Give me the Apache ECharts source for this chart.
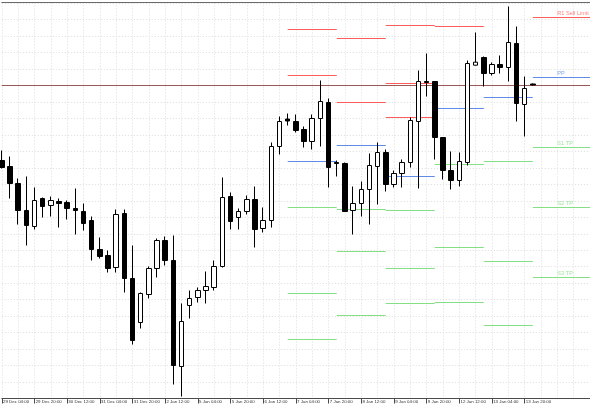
<!DOCTYPE html>
<html><head><meta charset="utf-8">
<script src="https://cdn.jsdelivr.net/npm/echarts@6/dist/echarts.min.js"></script>
<style>html,body{margin:0;padding:0;background:#fff}#c{width:590px;height:410px}</style>
</head><body><div id="c"></div><script>
// 4H bar times
const times = [
 "29 Dec 04:00","29 Dec 08:00","29 Dec 12:00","29 Dec 16:00","29 Dec 20:00",
 "30 Dec 00:00","30 Dec 04:00","30 Dec 08:00","30 Dec 12:00","30 Dec 16:00","30 Dec 20:00",
 "31 Dec 00:00","31 Dec 04:00","31 Dec 08:00","31 Dec 12:00","31 Dec 16:00","31 Dec 20:00",
 "2 Jan 00:00","2 Jan 04:00","2 Jan 08:00","2 Jan 12:00","2 Jan 16:00","2 Jan 20:00",
 "5 Jan 00:00","5 Jan 04:00","5 Jan 08:00","5 Jan 12:00","5 Jan 16:00","5 Jan 20:00",
 "6 Jan 00:00","6 Jan 04:00","6 Jan 08:00","6 Jan 12:00","6 Jan 16:00","6 Jan 20:00",
 "7 Jan 00:00","7 Jan 04:00","7 Jan 08:00","7 Jan 12:00","7 Jan 16:00","7 Jan 20:00",
 "8 Jan 00:00","8 Jan 04:00","8 Jan 08:00","8 Jan 12:00","8 Jan 16:00","8 Jan 20:00",
 "9 Jan 00:00","9 Jan 04:00","9 Jan 08:00","9 Jan 12:00","9 Jan 16:00","9 Jan 20:00",
 "12 Jan 00:00","12 Jan 04:00","12 Jan 08:00","12 Jan 12:00","12 Jan 16:00","12 Jan 20:00",
 "13 Jan 00:00","13 Jan 04:00","13 Jan 08:00","13 Jan 12:00","13 Jan 16:00","13 Jan 20:00",
 "14 Jan 00:00"
];
const futureSlots = ["","","","","","",""];

// prices (points)
const open  = [238,232,215,188,172,200,193,197,196,190,187,178,149,143,131,185,120,76,104,130,158,138,32,93,101,108,111,132,202,181,187,199,170,178,252,279.5,277,269,257,280,296,236,235,188,195,209,232,246,214,225,236,277,317,317,261,228,218,236,333.3,341,325,334,331,355,294,314.5];
const close = [231,215,188,173,198,192,198,195,190,188,175,149,142,130,184,120,58,105,130,158,138,33,77,100,108,112,132,201,177,187,199,169,178,252,277,277.5,268,257,280,297,231,235,187,195,209,233,246,214,225,236,278,317,316,261,228,218,237,335,336.3,325,334,331,356,295,310,313.5];
const low   = [230,200,174,153,169,181,182,171,179,164,168,138,140,126,126,106,54,70,100,121,133,14,2,80,96,95,108,131,169,169,184,151,166,171,244,273,266,251,249,252,211,222,187,164,182,174,194,207,211,211,231,210,302,239,219,209,212,233,333,312,323,325,317,277,262,313];
const high  = [248,242,220,222,211,201,202,200,198,210,195,182,161,148,189,189,153,106,132,160,162,163,95,108,111,127,138,221,206,190,203,212,191,256,282,285,284,272,284,318,300,238,236,212,217,245,256,249,228,239,281,328,345,317,261,247,246,338,366,342,336,343,392,372,322,315];

// daily pivot levels (segments from dayStart to dayEnd bar index)
const dayStart = [35,41,47,53,59,65];
const dayEnd   = [41,47,53,59,65,72];
const r3 = [null,null,373,null,null,null];
const r2 = [369,360,315,null,null,null];
const r1 = [323,296,281,372,null,381];
const pp = [237,253,222,290,301,321];
const s1 = [191,189,188,234,237,251];
const s2 = [105,147,130,151,137,191];
const s3 = [59,83,95,96,73,121];
const labelBar = 68;
const labelTexts = ["R1 Sell Limit","PP","S1 TP","S2 TP","S3 TP"];

const RED = '#ff5c5c', BLUE = '#5f8ce8', GREEN = '#84e084';
const FONT = 'Liberation Sans, Arial, sans-serif';

const categories = times.concat(futureSlots);
const candleData = open.map((o, i) => [o, close[i], low[i], high[i]]);

const series = [{
  type: 'candlestick',
  data: candleData,
  barWidth: 5,
  clip: false,
  itemStyle: { color: '#ffffff', color0: '#000000', borderColor: '#000000', borderColor0: '#000000', borderWidth: 1 },
  markLine: {
    silent: true, symbol: 'none', animation: false,
    label: { show: false },
    lineStyle: { color: '#9a5858', width: 1, type: 'solid' },
    data: [{ yAxis: close[close.length - 1] }]
  },
  z: 5
}];

const levels = [[r3, RED],[r2, RED],[r1, RED],[pp, BLUE],[s1, GREEN],[s2, GREEN],[s3, GREEN]];
levels.forEach(([arr, col]) => {
  arr.forEach((v, d) => {
    if (v == null) return;
    series.push({
      type: 'line', silent: true, symbol: 'none', animation: false,
      lineStyle: { color: col, width: 1 },
      data: [[dayStart[d], v], [dayEnd[d], v]],
      z: 3
    });
  });
});

const last = dayStart.length - 1;
const labelVals = [r1[last], pp[last], s1[last], s2[last], s3[last]];
const labelCols = [RED, BLUE, GREEN, GREEN, GREEN];
series.push({
  type: 'scatter', silent: true, animation: false, symbolSize: 0,
  data: labelVals.map((v, k) => ({
    value: [labelBar, v],
    label: { show: true, formatter: labelTexts[k], position: 'top', align: 'left', distance: 1.2,
             color: labelCols[k], fontSize: 5.6, fontFamily: FONT }
  })),
  z: 6
});

const chart = echarts.init(document.getElementById('c'), null, { renderer: 'canvas' });
chart.setOption({
  animation: false,
  backgroundColor: '#ffffff',
  grid: { left: 1.7, right: -2.1, top: 2.5, bottom: 11.5 },
  xAxis: [{
    type: 'category', data: categories, boundaryGap: false,
    axisLine: { show: true, lineStyle: { color: '#4a4a4a', width: 1 } },
    axisTick: { show: true, length: 5, lineStyle: { color: '#4a4a4a' },
                interval: (idx, val) => val !== '' && idx % 4 === 0 },
    axisLabel: { show: true, interval: (idx, val) => val !== '' && idx % 4 === 0,
                 align: 'left', margin: 1.5, padding: [0, 0, 0, 1.2],
                 fontSize: 4.4, color: '#333', fontFamily: FONT },
    splitLine: { show: true, interval: 1, lineStyle: { color: '#dcdcdc', type: [1, 2], width: 1 } }
  }, {
    type: 'category', data: categories, boundaryGap: false, position: 'top',
    axisLine: { show: true, lineStyle: { color: '#6a6a6a', width: 1 } },
    axisTick: { show: false }, axisLabel: { show: false }, splitLine: { show: false }
  }],
  yAxis: {
    type: 'value', min: 0, max: 396, interval: 16.47,
    axisLine: { show: false }, axisTick: { show: false }, axisLabel: { show: false },
    splitLine: { show: true, lineStyle: { color: '#dcdcdc', type: [1, 2], width: 1 } }
  },
  series: series
});
</script></body></html>
